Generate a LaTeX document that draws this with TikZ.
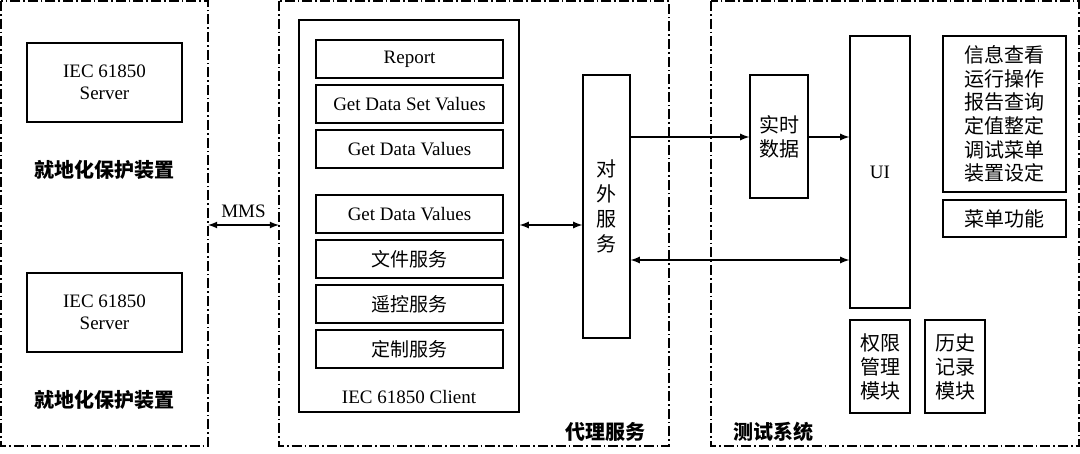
\documentclass[tikz,border=0pt]{standalone}
\usepackage{fontspec}
\setmainfont{Liberation Serif}
\newfontfamily\cjk{Noto Sans CJK SC}
\usetikzlibrary{positioning}
\tikzset{
  box/.style={draw, line width=0.6pt, inner sep=1pt, align=center, font=\fontsize{9.5}{11}\selectfont},
  svc/.style={box, minimum width=93.5pt, minimum height=19pt},
  panel/.style={line width=0.6pt, dash pattern=on 5pt off 1.5pt on 0.8pt off 1.5pt},
  tag/.style={font=\cjk\bfseries\fontsize{10}{12}\selectfont},
  link/.style={line width=0.6pt, -latex},
  both/.style={line width=0.6pt, latex-latex}
}
\begin{document}
\begin{tikzpicture}[x=0.5pt, y=-0.5pt]
  \useasboundingbox (0,0) rectangle (1080,454);
  % panels
  \draw[panel] (1,1) rectangle (208,446);
  \draw[panel] (279,1) rectangle (669,446);
  \draw[panel] (711,1) rectangle (1079,446);
  % devices
  \node[box, minimum width=77.5pt, minimum height=39.5pt] (srv1) at (104.5,82.5) {IEC 61850\\Server};
  \node[box, minimum width=77.5pt, minimum height=39.5pt] (srv2) at (104.5,312.5) {IEC 61850\\Server};
  \node[tag] (dev1) at (104,170) {就地化保护装置};
  \node[tag] (dev2) at (104,400) {就地化保护装置};
  % client
  \node[box, minimum width=110pt, minimum height=196pt] (client) at (409,216) {};
  \node[font=\fontsize{9.5}{11}\selectfont] (clientlbl) at (409,397) {IEC 61850 Client};
  \foreach \y/\txt [count=\i] in {59/Report, 104/Get Data Set Values, 149/Get Data Values, 214/Get Data Values,
      259/{\cjk 文件服务}, 304/{\cjk 遥控服务}, 349/{\cjk 定制服务}}{
    \node[svc] (s\i) at (409.5,\y) {\txt};
  }
  \node[box, minimum width=23.5pt, minimum height=131.5pt, font=\cjk\fontsize{10}{12.5}\selectfont] (ext) at (606.5,206.5) {对\\外\\服\\务};
  \node[tag] (proxy) at (605,432) {代理服务};
  % test system
  \node[box, minimum width=29pt, minimum height=61.5pt, font=\cjk\fontsize{10}{12}\selectfont] (rt) at (779,136.5) {实时\\数据};
  \node[box, minimum width=30pt, minimum height=136pt] (ui) at (880,172) {UI};
  \node[box, minimum width=61.5pt, minimum height=78pt, font=\cjk\fontsize{10}{11.8}\selectfont] (menu) at (1004.5,114) {信息查看\\运行操作\\报告查询\\定值整定\\调试菜单\\装置设定};
  \node[box, minimum width=61.5pt, minimum height=18.5pt, font=\cjk\fontsize{10}{12}\selectfont] (menufn) at (1004.5,218.5) {菜单功能};
  \node[box, minimum width=30pt, minimum height=46.5pt, font=\cjk\fontsize{10}{12}\selectfont] (auth) at (880,366.5) {权限\\管理\\模块};
  \node[box, minimum width=30pt, minimum height=46.5pt, font=\cjk\fontsize{10}{12}\selectfont] (hist) at (955,366.5) {历史\\记录\\模块};
  \node[tag] (test) at (773,432) {测试系统};
  % connectors
  \coordinate (mmsL) at (208,225);
  \coordinate (mmsR) at (279,225);
  \draw[both] (mmsL) -- node[above, font=\fontsize{9.5}{11}\selectfont] {MMS} (mmsR);
  \draw[both] (client.east |- 0,225) -- (ext.west |- 0,225);
  \draw[link] (ext.east |- 0,137) -- (rt.west |- 0,137);
  \draw[link] (rt.east |- 0,137) -- (ui.west |- 0,137);
  \draw[both] (ext.east |- 0,260) -- (ui.west |- 0,260);
\end{tikzpicture}
\end{document}
